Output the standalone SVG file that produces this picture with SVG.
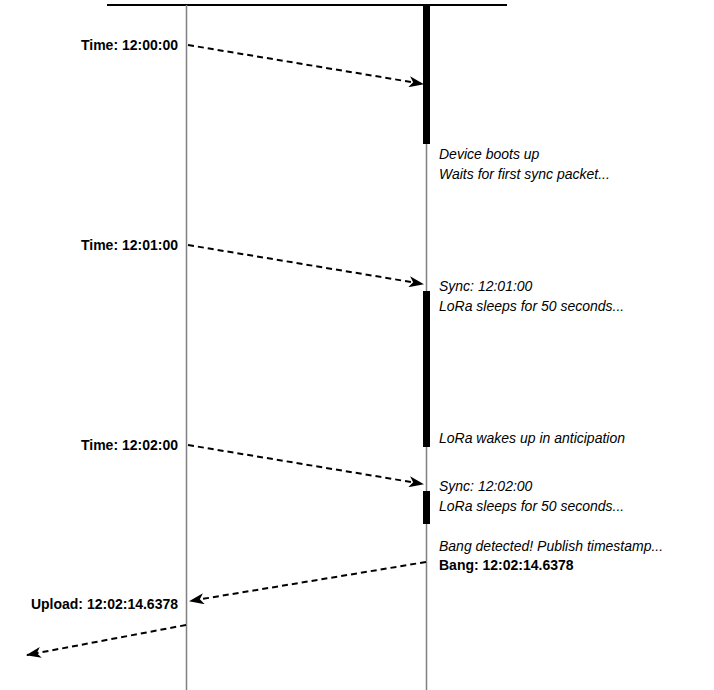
<svg xmlns="http://www.w3.org/2000/svg" width="714" height="690" viewBox="0 0 714 690">
<defs>
<style>
.life{stroke:#808080;stroke-width:1.5;fill:none}
.bar{fill:#000}
.msg{stroke:#000;stroke-width:2;stroke-dasharray:6 4;fill:none;marker-end:url(#arr)}
.b{font-family:"Liberation Sans",Arial,sans-serif;font-size:14px;font-weight:bold;fill:#000}
.i{font-family:"Liberation Sans",Arial,sans-serif;font-size:14px;font-style:italic;fill:#000}
</style>
<marker id="arr" viewBox="0 0 15 11" refX="14" refY="5.5" markerWidth="15" markerHeight="11" markerUnits="userSpaceOnUse" orient="auto">
<path d="M0,0 L15,5.5 L0,11 L4,5.5 Z" fill="#000"/>
</marker>
</defs>
<rect width="714" height="690" fill="#fff"/>
<g id="timeline">
<line x1="107" y1="5" x2="507" y2="5" stroke="#000" stroke-width="2"/>
</g>
<g id="server">
<line class="life" x1="186.5" y1="5" x2="186.5" y2="690"/>
</g>
<g id="device">
<line class="life" x1="426.5" y1="5" x2="426.5" y2="690"/>
<rect class="bar" x="423" y="5" width="7" height="139"/>
<rect class="bar" x="423" y="291" width="7" height="156"/>
<rect class="bar" x="423" y="491" width="7" height="33"/>
</g>
<g id="connectors">
<line class="msg" x1="188" y1="45" x2="423" y2="84"/>
<line class="msg" x1="188" y1="245" x2="423" y2="284"/>
<line class="msg" x1="188" y1="445" x2="423" y2="484"/>
<line class="msg" x1="426" y1="562" x2="190" y2="601"/>
<line class="msg" x1="186" y1="625" x2="27" y2="655"/>
</g>
<g id="labels">
<text class="b" x="178" y="50" text-anchor="end">Time: 12:00:00</text>
<text class="b" x="178" y="250" text-anchor="end">Time: 12:01:00</text>
<text class="b" x="178" y="450" text-anchor="end">Time: 12:02:00</text>
<text class="b" x="178" y="609" text-anchor="end">Upload: 12:02:14.6378</text>
<text class="i" x="439" y="159">Device boots up</text>
<text class="i" x="439" y="179">Waits for first sync packet...</text>
<text class="i" x="439" y="291">Sync: 12:01:00</text>
<text class="i" x="439" y="311">LoRa sleeps for 50 seconds...</text>
<text class="i" x="439" y="443">LoRa wakes up in anticipation</text>
<text class="i" x="439" y="491">Sync: 12:02:00</text>
<text class="i" x="439" y="511">LoRa sleeps for 50 seconds...</text>
<text class="i" x="439" y="551">Bang detected! Publish timestamp...</text>
<text class="b" x="439" y="570">Bang: 12:02:14.6378</text>
</g>
</svg>
